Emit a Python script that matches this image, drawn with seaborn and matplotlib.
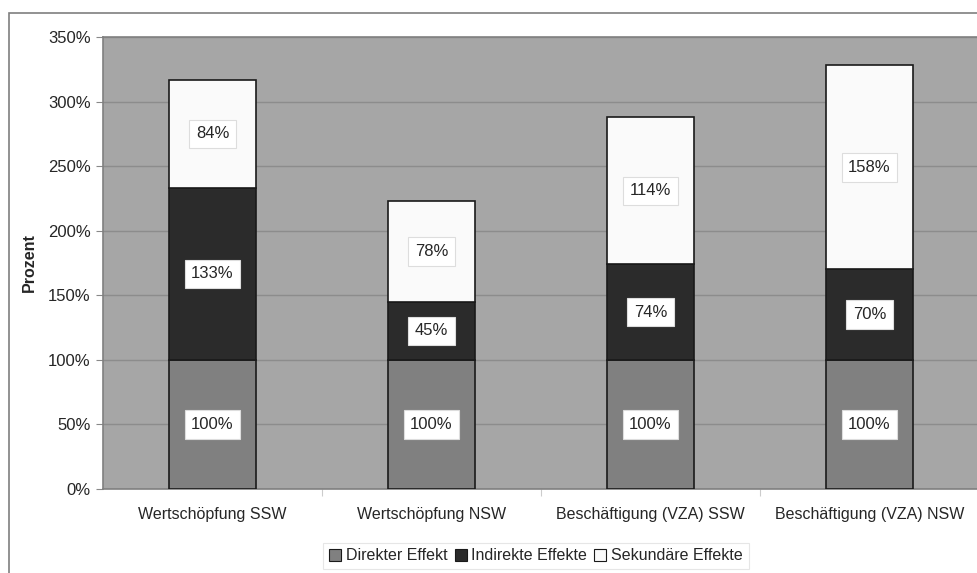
import matplotlib
matplotlib.use('Agg')
import matplotlib.pyplot as plt
import seaborn as sns
import numpy as np
from matplotlib.patches import Rectangle, Patch

categories = ['Wertschöpfung SSW', 'Wertschöpfung NSW',
              'Beschäftigung (VZA) SSW', 'Beschäftigung (VZA) NSW']
direkt = [100, 100, 100, 100]
indirekt = [133, 45, 74, 70]
sekundaer = [84, 78, 114, 158]
series_names = ['Direkter Effekt', 'Indirekte Effekte', 'Sekundäre Effekte']
colors = ['#808080', '#2b2b2b', '#fafafa']
y_ticks = [0, 50, 100, 150, 200, 250, 300, 350]

sns.set_style('white')
plt.rcParams['font.family'] = ['Liberation Sans', 'DejaVu Sans']

W, H = 978, 573
fig = plt.figure(figsize=(W / 100, H / 100), dpi=100)
ax = fig.add_axes([103 / W, (H - 489) / H, 876 / W, (489 - 37) / H])
ax.set_facecolor('#a6a6a6')

# outer chart frame
fig.patches.append(Rectangle((9 / W, -0.1), 1.2, (H - 13) / H + 0.1,
                             transform=fig.transFigure, fill=False,
                             edgecolor='#7f7f7f', linewidth=1.2, zorder=0))

bottom = np.zeros(len(categories))
for name, vals, col in zip(series_names, [direkt, indirekt, sekundaer], colors):
    sns.barplot(x=categories, y=vals, bottom=bottom, color=col, width=0.4,
                edgecolor='#1a1a1a', linewidth=1.2, saturation=1, ax=ax,
                zorder=3)
    for i, v in enumerate(vals):
        ax.text(i, bottom[i] + v / 2, f'{v}%', ha='center', va='center',
                fontsize=12, zorder=5,
                bbox=dict(boxstyle='square,pad=0.4', facecolor='white',
                          edgecolor='#dddddd', linewidth=0.8))
    bottom = bottom + np.array(vals)

ax.set_ylim(0, 350)
ax.set_xlim(-0.5, 3.5)
ax.set_yticks(y_ticks)
ax.set_yticklabels([f'{t}%' for t in y_ticks], fontsize=12)
ax.tick_params(axis='x', labelsize=11.5, length=0, pad=13)
ax.tick_params(axis='y', length=5, width=0.8, color='#888888', direction='out',
               left=True, pad=4)
ax.set_xticks(range(len(categories)))
ax.set_xticks([0.5, 1.5, 2.5], minor=True)
ax.tick_params(axis='x', which='minor', bottom=True, length=5,
               color='#cccccc', width=0.8, direction='out')
ax.grid(axis='y', color='#8c8c8c', linewidth=1, zorder=0)
ax.set_axisbelow(True)
for s in ['left', 'bottom', 'top']:
    ax.spines[s].set_visible(True)
    ax.spines[s].set_color('#808080')
    ax.spines[s].set_linewidth(1.2)
ax.spines['right'].set_visible(False)
ax.set_xlabel('')
ax.set_ylabel('Prozent', fontsize=11.5, fontweight='bold', labelpad=8)

handles = [Patch(facecolor=c, edgecolor='#1a1a1a', linewidth=0.8) for c in colors]
leg = fig.legend(handles, series_names, loc='center',
                 bbox_to_anchor=(536 / W, (H - 556) / H), ncol=3,
                 fontsize=11.5, frameon=True, fancybox=False,
                 handlelength=0.75, handleheight=0.75, handletextpad=0.3,
                 columnspacing=0.45, borderpad=0.35)
leg.get_frame().set_edgecolor('#e0e0e0')
leg.get_frame().set_linewidth(0.8)

fig.savefig('out.png', dpi=100)
